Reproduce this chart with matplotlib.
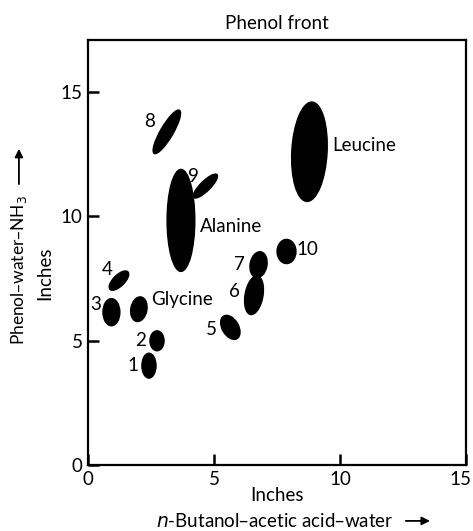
import matplotlib.pyplot as plt
from matplotlib.patches import Ellipse
from matplotlib.transforms import ScaledTranslation

# spot centres (inches), sizes and tilt
spot_x = [2.42, 2.74, 0.93, 1.23, 5.65, 6.59, 6.77, 3.13, 4.66, 7.88, 2.02, 3.69, 8.79]
spot_y = [4.00, 5.00, 6.15, 7.42, 5.54, 6.83, 8.06, 13.40, 11.22, 8.59, 6.27, 9.84, 12.60]
spot_w = [0.56, 0.56, 0.67, 1.00, 1.05, 1.57, 1.05, 2.00, 1.30, 0.75, 1.00, 4.10, 4.00]
spot_h = [1.00, 0.80, 1.09, 0.45, 0.65, 0.71, 0.67, 0.50, 0.40, 0.97, 0.64, 1.10, 1.40]
spot_angle = [0, 0, 0, 45, -60, 80, 80, 60, 45, 0, 80, 90, 87]

# labels
label_text = ['1', '2', '3', '4', '5', '6', '7', '8', '9', '10']
label_x = [1.79, 2.10, 0.32, 0.75, 4.88, 5.83, 6.03, 2.46, 4.17, 8.70]
label_y = [4.00, 5.00, 6.45, 7.86, 5.44, 6.98, 8.06, 13.83, 11.60, 8.67]
name_text = ['Glycine', 'Alanine', 'Leucine']
name_x = [2.50, 4.44, 9.68]
name_y = [6.65, 9.60, 12.86]

ticks = [0, 5, 10, 15]

plt.rcParams['font.family'] = ['Lato', 'DejaVu Sans']
fs = 13.5

fig = plt.figure(figsize=(4.73, 5.31), dpi=100)
ax = fig.add_axes([0.186, 0.124, 0.799, 0.801])

for x, y, w, h, a in zip(spot_x, spot_y, spot_w, spot_h, spot_angle):
    ax.add_patch(Ellipse((x, y), w, h, angle=a, facecolor='black', edgecolor='black'))

for t, x, y in zip(label_text, label_x, label_y):
    ax.text(x, y, t, fontsize=fs, ha='center', va='center')
for t, x, y in zip(name_text, name_x, name_y):
    ax.text(x, y, t, fontsize=fs, ha='left', va='center')

ax.set_xlim(0, 15)
ax.set_ylim(0, 17.1)
ax.set_xticks(ticks)
ax.set_yticks(ticks)
ax.tick_params(direction='in', length=8, width=1.8, labelsize=fs, pad=4)
last = ax.get_xticklabels()[-1]
last.set_transform(last.get_transform() + ScaledTranslation(-5 / 100, 0, fig.dpi_scale_trans))
for s in ax.spines.values():
    s.set_linewidth(1.6)

ax.set_title('Phenol front', fontsize=fs, pad=8)

# axis labels with arrows
fig.text(0.586, 0.066, 'Inches', fontsize=fs, ha='center', va='center')
fig.text(0.581, 0.019, '$\\it{n}$-Butanol\u2013acetic acid\u2013water', fontsize=fs,
         ha='center', va='center')
ax.annotate('', xy=(0.915, 0.019), xytext=(0.852, 0.019), xycoords='figure fraction',
            textcoords='figure fraction',
            arrowprops=dict(arrowstyle='-|>', color='black', lw=1.3, mutation_scale=12))

fig.text(0.040, 0.491, 'Phenol\u2013water\u2013NH$_3$', fontsize=12.5, rotation=90,
         ha='center', va='center')
fig.text(0.095, 0.486, 'Inches', fontsize=fs, rotation=90, ha='center', va='center')
ax.annotate('', xy=(0.040, 0.725), xytext=(0.040, 0.648), xycoords='figure fraction',
            textcoords='figure fraction',
            arrowprops=dict(arrowstyle='-|>', color='black', lw=1.3, mutation_scale=12))

plt.savefig('out.png', dpi=100)
